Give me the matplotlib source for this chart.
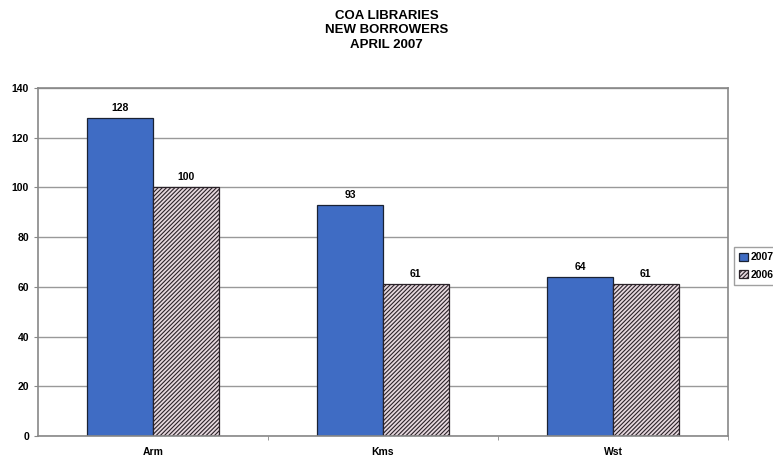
import numpy as np
import matplotlib
matplotlib.use('Agg')
import matplotlib.pyplot as plt

plt.rcParams['font.family'] = ['Liberation Sans', 'DejaVu Sans']
plt.rcParams['hatch.linewidth'] = 0.8

libraries = ['Arm', 'Kms', 'Wst']
new_2007 = [128, 93, 64]
new_2006 = [100, 61, 61]

fig = plt.figure(figsize=(7.73, 4.61), dpi=100)
ax = fig.add_axes([38/773, 25/461, 690/773, 348/461])

x = np.arange(len(libraries))
w = 0.285
#blue bars for this year, hatched for last year
b1 = ax.bar(x - w/2, new_2007, w, color='#3f6cc4', edgecolor='#1a2233', linewidth=0.9, label='2007')
plt.rcParams['hatch.color'] = '#5a4a58'
b2 = ax.bar(x + w/2, new_2006, w, color='#e6d8de', edgecolor='#2a2228', linewidth=0.9,
            hatch='////////', label='2006')

for bars in (b1, b2):
    for r in bars:
        ax.text(r.get_x() + r.get_width()/2, r.get_height() + 2, str(int(r.get_height())),
                ha='center', va='bottom', fontsize=7.5, fontweight='bold')

ax.set_xlim(-0.5, 2.5)
ax.set_ylim(0, 140)
ax.set_yticks(range(0, 141, 20))
ax.set_xticks(x)
ax.set_xticklabels(libraries, fontsize=7.5, fontweight='bold')
ax.set_xticks([0.5, 1.5, 2.5], minor=True)
ax.tick_params(axis='x', which='major', length=0, pad=8)
ax.tick_params(axis='x', which='minor', length=3, color='#888888', direction='out')
ax.tick_params(axis='y', labelsize=7.5, length=3, color='#888888', direction='out')
for t in ax.get_yticklabels():
    t.set_fontweight('bold')
ax.yaxis.grid(True, color='#999999', linewidth=1)
ax.set_axisbelow(True)
for s in ax.spines.values():
    s.set_color('#888888')
    s.set_linewidth(1.2)

fig.text(0.5, 1 - 10/461, 'COA LIBRARIES\nNEW BORROWERS\nAPRIL 2007', ha='center', va='top',
         fontsize=9.5, fontweight='bold', linespacing=1.25)

leg = fig.legend(handles=[b1, b2], loc='lower left', bbox_to_anchor=(734/773, (461-285)/461),
                 prop={'weight': 'bold', 'size': 7.5}, frameon=True, fancybox=False,
                 handlelength=0.8, handleheight=0.8, handletextpad=0.3, borderpad=0.5,
                 labelspacing=0.7, borderaxespad=0)
leg.get_frame().set_edgecolor('#888888')
leg.get_frame().set_linewidth(1)

fig.savefig('out.png', dpi=100)
